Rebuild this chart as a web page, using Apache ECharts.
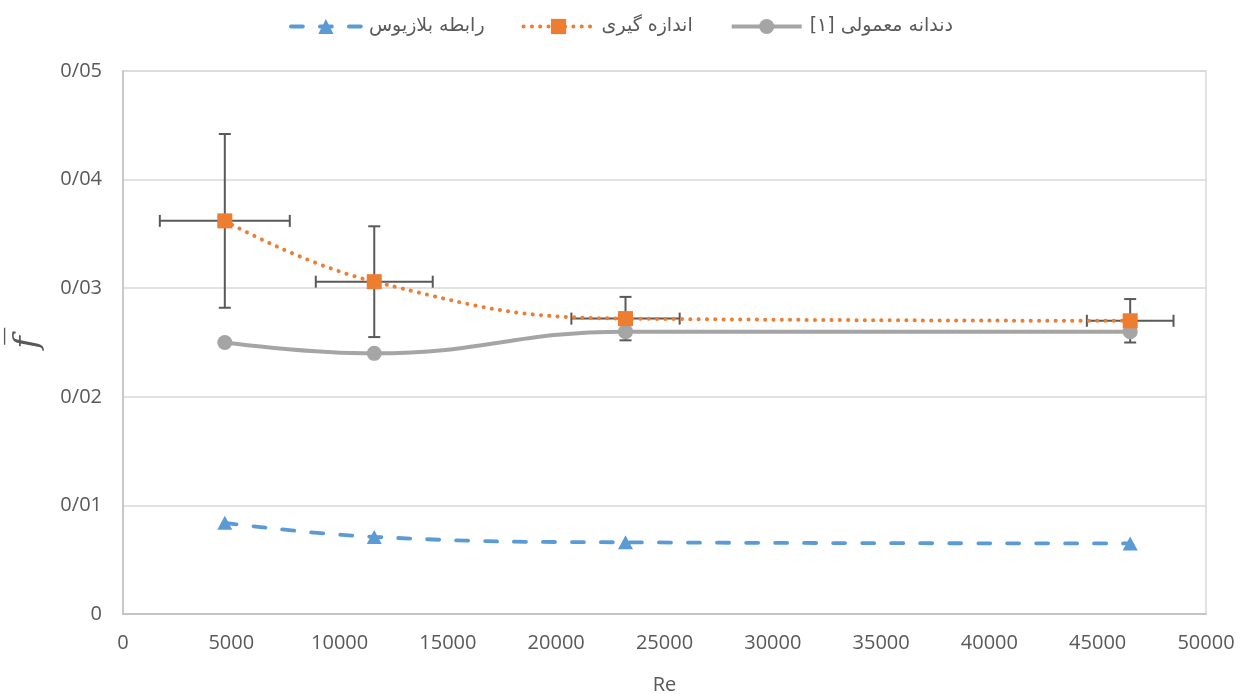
<!DOCTYPE html>
<html><head><meta charset="utf-8">
<script src="https://cdn.jsdelivr.net/npm/echarts@6/dist/echarts.min.js"></script>
<style>html,body{margin:0;padding:0;background:#fff}#c{width:1246px;height:694px}</style>
</head><body><div id="c"></div>
<script>
const reValues = [4700, 11600, 23200, 46500];
const blasius = [0.0084, 0.0071, 0.0066, 0.0065];
const measured = [0.0362, 0.0306, 0.0272, 0.0270];
const regular = [0.0250, 0.0240, 0.0260, 0.0260];
const measuredYErr = [0.0080, 0.0051, 0.0020, 0.0020];
const measuredXErr = [3000, 2700, 2500, 2000];
const seriesNames = ['رابطه بلازیوس', 'اندازه گیری', 'دندانه معمولی [۱]\u200F'];
const xTickLabels = ['0','5000','10000','15000','20000','25000','30000','35000','40000','45000','50000'];
const yTickLabels = ['0','0/01','0/02','0/03','0/04','0/05'];

const pairs = (ys) => reValues.map((x, i) => [x, ys[i]]);
const errData = reValues.map((x, i) => [x, measured[i], measuredXErr[i], measuredYErr[i]]);

const chart = echarts.init(document.getElementById('c'), null, {renderer: 'canvas'});
const axisFont = {fontFamily: 'Open Sans', fontSize: 20, color: '#595959'};
chart.setOption({
  animation: false,
  backgroundColor: '#fff',
  legend: {
    data: seriesNames,
    top: 12,
    left: 284,
    itemWidth: 70,
    itemHeight: 19,
    itemGap: 37,
    lineStyle: {width: 'inherit'},
    textStyle: {fontFamily: 'DejaVu Sans', fontSize: 19, color: '#595959', padding: [0, 0, 0, 3]}
  },
  grid: {left: 123, right: 40, top: 71, bottom: 80, outerBoundsMode: 'none', show: true, borderColor: '#D9D9D9', borderWidth: 1.5},
  xAxis: {
    type: 'value', min: 0, max: 50000, interval: 5000,
    name: 'Re', nameLocation: 'middle', nameGap: 61,
    nameTextStyle: {fontFamily: 'Open Sans', fontSize: 20, color: '#595959'},
    axisLine: {show: true, lineStyle: {color: '#BFBFBF', width: 1.5}},
    axisTick: {show: false},
    splitLine: {show: false},
    axisLabel: Object.assign({margin: 19, formatter: (v) => xTickLabels[Math.round(v / 5000)]}, axisFont)
  },
  yAxis: {
    type: 'value', min: 0, max: 0.05, interval: 0.01,
    name: 'f\u0305', nameLocation: 'middle', nameGap: 78,
    nameTextStyle: {fontFamily: 'DejaVu Serif', fontStyle: 'italic', fontSize: 34, color: '#595959'},
    axisLine: {show: true, lineStyle: {color: '#BFBFBF', width: 1.5}},
    axisTick: {show: false},
    splitLine: {show: true, lineStyle: {color: '#D9D9D9', width: 1.5}},
    axisLabel: Object.assign({margin: 21, formatter: (v) => yTickLabels[Math.round(v / 0.01)]}, axisFont)
  },
  series: [
    {
      type: 'custom', name: 'err', z: 1, silent: true,
      data: errData,
      renderItem: function (params, api) {
        const x = api.value(0), y = api.value(1), ex = api.value(2), ey = api.value(3);
        const l = api.coord([x - ex, y]), r = api.coord([x + ex, y]);
        const t = api.coord([x, y + ey]), b = api.coord([x, y - ey]);
        const h = 6;
        const style = {stroke: '#595959', lineWidth: 2, fill: null};
        const ln = (x1, y1, x2, y2) => ({type: 'line', shape: {x1, y1, x2, y2}, style});
        return {type: 'group', children: [
          ln(l[0], l[1], r[0], r[1]),
          ln(l[0], l[1] - h, l[0], l[1] + h),
          ln(r[0], r[1] - h, r[0], r[1] + h),
          ln(t[0], t[1], b[0], b[1]),
          ln(t[0] - h, t[1], t[0] + h, t[1]),
          ln(b[0] - h, b[1], b[0] + h, b[1])
        ]};
      }
    },
    {
      type: 'line', name: seriesNames[0], z: 3, data: pairs(blasius), smooth: 0.45,
      symbol: 'triangle', symbolSize: [15, 14],
      itemStyle: {color: '#5B9BD5'},
      lineStyle: {color: '#5B9BD5', width: 3.8, type: [12, 17], cap: 'round'}
    },
    {
      type: 'line', name: seriesNames[1], z: 4, data: pairs(measured), smooth: 0.45,
      symbol: 'rect', symbolSize: 15,
      itemStyle: {color: '#ED7D31'},
      lineStyle: {color: '#ED7D31', width: 4, type: [0.1, 8.2], cap: 'round'}
    },
    {
      type: 'line', name: seriesNames[2], z: 3, data: pairs(regular), smooth: 0.45,
      symbol: 'circle', symbolSize: 15,
      itemStyle: {color: '#A5A5A5'},
      lineStyle: {color: '#A5A5A5', width: 4}
    }
  ]
});
</script>
</body></html>
